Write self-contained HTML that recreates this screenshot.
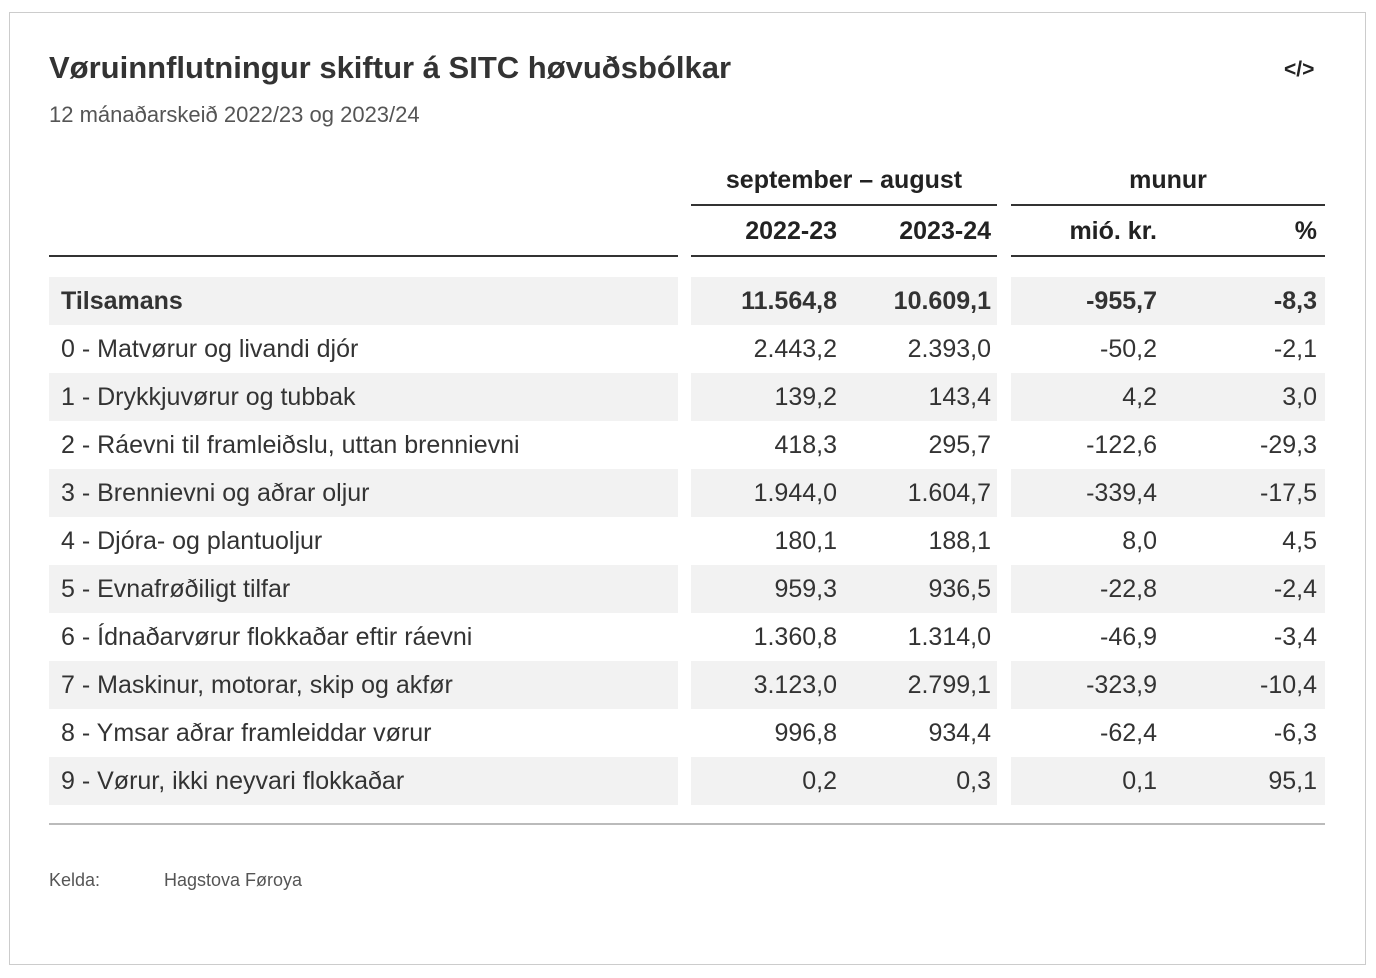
<!DOCTYPE html>
<html><head><meta charset="utf-8"><style>
body{margin:0;width:1376px;height:978px;background:#fff;font-family:"Liberation Sans",sans-serif;color:#333;position:relative;overflow:hidden}
.abs{position:absolute}
#frame{left:9px;top:12px;width:1357px;height:953px;border:1px solid #ccc;box-sizing:border-box}
.t{white-space:nowrap}
.cell{position:absolute;height:48px;box-sizing:border-box}
.sh{background:#f2f2f2}
.txt{position:absolute;font-size:25px;line-height:48px;white-space:nowrap}
.r{text-align:right}
.hd{font-weight:bold;font-size:25px;color:#222}
.rule{position:absolute;background:#333}
</style></head><body>
<div id="frame" class="abs"></div>
<div class="abs t" style="left:49px;top:50px;font-size:31px;font-weight:bold;color:#333">Vøruinnflutningur skiftur á SITC høvuðsbólkar</div>
<div class="abs t" style="left:49px;top:102px;font-size:22px;color:#555">12 mánaðarskeið 2022/23 og 2023/24</div>
<div class="abs t" style="left:1284px;top:58px;font-size:21px;color:#222;font-weight:bold">&lt;/&gt;</div>

<div class="abs t hd" style="left:691px;width:306px;top:166px;text-align:center">september – august</div>
<div class="rule" style="left:691px;top:204px;width:306px;height:2px"></div>
<div class="abs t hd" style="left:1011px;width:314px;top:166px;text-align:center">munur</div>
<div class="rule" style="left:1011px;top:204px;width:314px;height:2px"></div>

<div class="abs t hd r" style="left:691px;width:146px;top:217px">2022-23</div>
<div class="abs t hd r" style="left:845px;width:146px;top:217px">2023-24</div>
<div class="abs t hd r" style="left:1011px;width:146px;top:217px">mió. kr.</div>
<div class="abs t hd r" style="left:1171px;width:146px;top:217px">%</div>
<div class="rule" style="left:49px;top:255px;width:629px;height:2px"></div>
<div class="rule" style="left:691px;top:255px;width:306px;height:2px"></div>
<div class="rule" style="left:1011px;top:255px;width:314px;height:2px"></div>

<div id="rows"></div>
<div class="abs" style="left:49px;top:823px;width:1276px;height:2px;background:#bbb"></div>
<div class="abs t" style="left:49px;top:870px;font-size:18px;color:#555">Kelda:</div>
<div class="abs t" style="left:164px;top:870px;font-size:18px;color:#555">Hagstova Føroya</div>
<script>
const labels=["Tilsamans","0 - Matvørur og livandi djór","1 - Drykkjuvørur og tubbak","2 - Ráevni til framleiðslu, uttan brennievni","3 - Brennievni og aðrar oljur","4 - Djóra- og plantuoljur","5 - Evnafrøðiligt tilfar","6 - Ídnaðarvørur flokkaðar eftir ráevni","7 - Maskinur, motorar, skip og akfør","8 - Ymsar aðrar framleiddar vørur","9 - Vørur, ikki neyvari flokkaðar"];
const v2223=["11.564,8","2.443,2","139,2","418,3","1.944,0","180,1","959,3","1.360,8","3.123,0","996,8","0,2"];
const v2324=["10.609,1","2.393,0","143,4","295,7","1.604,7","188,1","936,5","1.314,0","2.799,1","934,4","0,3"];
const diffMio=["-955,7","-50,2","4,2","-122,6","-339,4","8,0","-22,8","-46,9","-323,9","-62,4","0,1"];
const diffPct=["-8,3","-2,1","3,0","-29,3","-17,5","4,5","-2,4","-3,4","-10,4","-6,3","95,1"];
const root=document.getElementById('rows');
function mk(cls,style,text){const d=document.createElement('div');d.className=cls;d.style.cssText=style;if(text!==undefined)d.textContent=text;root.appendChild(d);return d;}
labels.forEach((lab,i)=>{
  const y=277+i*48;const shade=i%2===0;
  [[49,629],[691,306],[1011,314]].forEach(([x,w],g)=>{
    const c=mk('cell'+(shade?' sh':''),`left:${x}px;top:${y}px;width:${w}px`);
    
    
  });
  const b=i===0?'font-weight:bold;color:#333;':'';
  const l=mk('txt',`${b}left:61px;top:${y}px`,lab);
  
  
  const a=mk('txt r',`${b}left:691px;width:146px;top:${y}px`,v2223[i]);
  
  
  const c2=mk('txt r',`${b}left:845px;width:146px;top:${y}px`,v2324[i]);
  
  
  const d=mk('txt r',`${b}left:1011px;width:146px;top:${y}px`,diffMio[i]);
  
  
  const p=mk('txt r',`${b}left:1171px;width:146px;top:${y}px`,diffPct[i]);
  
  
});
</script>
</body></html>
